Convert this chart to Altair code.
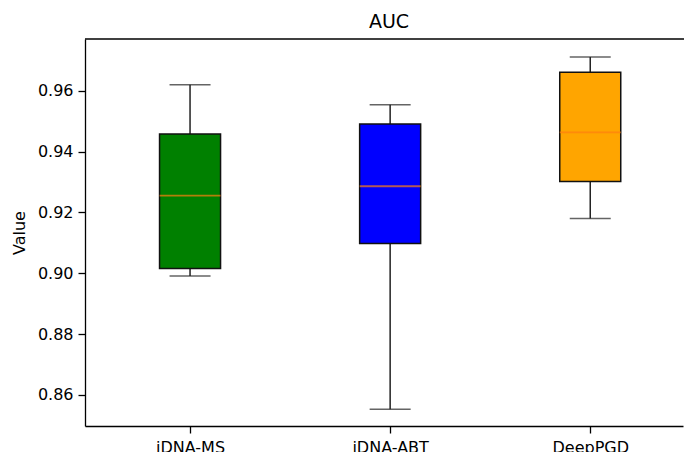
import altair as alt
import pandas as pd

# Data
names = ["iDNA-MS", "iDNA-ABT", "DeepPGD"]
positions = [1, 2, 3]
lower_whisker = [0.8991, 0.8553, 0.9180]
q1 = [0.9016, 0.9098, 0.9302]
median = [0.9255, 0.9286, 0.9463]
q3 = [0.9458, 0.9491, 0.9661]
upper_whisker = [0.9620, 0.9554, 0.9711]
colors = ["#008000", "#0000ff", "#ffa500"]

df = pd.DataFrame({
    "name": names, "pos": positions, "lo": lower_whisker, "q1": q1,
    "med": median, "q3": q3, "hi": upper_whisker, "color": colors,
})

W, H = 598, 387
xscale = alt.Scale(domain=[0.5, 0.5 + W / 203.5], nice=False, zero=False)
yscale = alt.Scale(domain=[0.8498, 0.977], nice=False, zero=False)

label_expr = "datum.value == 1 ? 'iDNA-MS' : datum.value == 2 ? 'iDNA-ABT' : datum.value == 3 ? 'DeepPGD' : ''"

xaxis = alt.Axis(values=[1, 2, 3], labelExpr=label_expr, title=None, grid=False,
                 tickSize=7, labelPadding=6, labelFontSize=16)
yaxis = alt.Axis(values=[0.86, 0.88, 0.90, 0.92, 0.94, 0.96], format=".2f", title="Value",
                 grid=False, tickSize=7, labelPadding=5, labelFontSize=16,
                 titleFontSize=16, titleFontWeight="normal", titlePadding=10)

base = alt.Chart(df)

whisk_lo = base.mark_rule(color="#222222", strokeWidth=1.5).encode(
    x=alt.X("pos:Q", scale=xscale, axis=xaxis),
    y=alt.Y("lo:Q", scale=yscale, axis=yaxis),
    y2="q1:Q",
)
whisk_hi = base.mark_rule(color="#222222", strokeWidth=1.5).encode(
    x=alt.X("pos:Q", scale=xscale), y=alt.Y("q3:Q", scale=yscale), y2="hi:Q"
)
boxes = base.mark_bar(stroke="#111111", strokeWidth=1.5, size=61).encode(
    x=alt.X("pos:Q", scale=xscale),
    y=alt.Y("q1:Q", scale=yscale),
    y2="q3:Q",
    color=alt.Color("color:N", scale=None),
)
med = base.mark_tick(orient="horizontal", color="#ff7f0e", size=61, thickness=1.8).encode(
    x=alt.X("pos:Q", scale=xscale), y=alt.Y("med:Q", scale=yscale)
)
cap_lo = base.mark_tick(orient="horizontal", color="#222222", size=41, thickness=1.5).encode(
    x=alt.X("pos:Q", scale=xscale), y=alt.Y("lo:Q", scale=yscale)
)
cap_hi = base.mark_tick(orient="horizontal", color="#222222", size=41, thickness=1.5).encode(
    x=alt.X("pos:Q", scale=xscale), y=alt.Y("hi:Q", scale=yscale)
)
top_spine = alt.Chart(pd.DataFrame({"a": [0]})).mark_rule(color="#000000", strokeWidth=1.3).encode(
    x=alt.value(0), x2=alt.value(W + 2), y=alt.value(0)
)

chart = alt.layer(whisk_lo, whisk_hi, boxes, med, cap_lo, cap_hi, top_spine).properties(
    width=W, height=H,
    title=alt.TitleParams("AUC", fontSize=19, font="DejaVu Sans", fontWeight="normal",
                          color="black", anchor="middle", baseline="alphabetic", offset=11,
                          dx=5, dy=20),
    autosize=alt.AutoSizeParams(type="none"),
    padding={"left": 85, "top": 39, "right": 1, "bottom": 26},
).configure_axis(
    labelFont="DejaVu Sans", titleFont="DejaVu Sans", labelColor="black", titleColor="black",
    domainColor="black", domainWidth=1.3, tickColor="black", tickWidth=1.3,
).configure_view(strokeWidth=0)

chart.save("out.html", embed_options={"renderer": "svg", "actions": False})
